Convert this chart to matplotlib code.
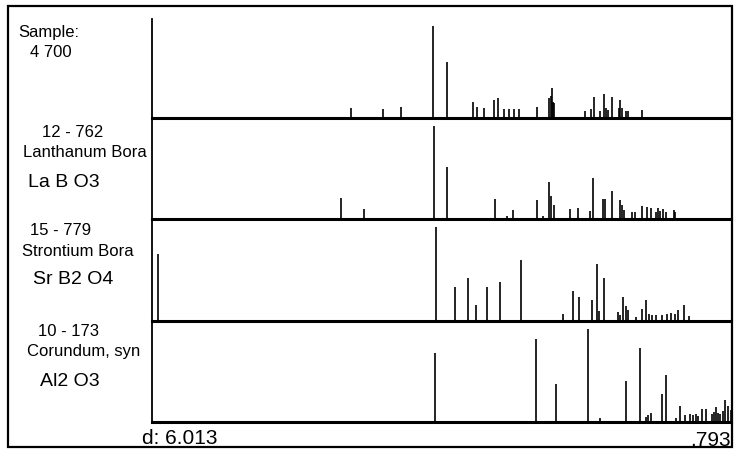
import matplotlib
matplotlib.use('Agg')
import matplotlib.pyplot as plt
from matplotlib.patches import Rectangle

# d-spacing range of the stick patterns (left -> right)
d_left = 6.013
d_right = 0.793

# Sample 4 700
sample_d = [4.221, 3.930, 3.770, 3.479, 3.353, 3.118, 3.080, 3.019, 2.932, 2.896,
            2.839, 2.797, 2.746, 2.706, 2.541, 2.433, 2.418, 2.406, 2.394, 2.385,
            2.106, 2.057, 2.025, 1.973, 1.940, 1.922, 1.898, 1.865, 1.802, 1.790,
            1.772, 1.742, 1.718, 1.597]
sample_i = [10, 9, 11, 93, 57, 16, 11, 10, 18, 20,
            9, 9, 9, 9, 11, 20, 22, 30, 16, 15,
            7, 9, 21, 7, 24, 10, 8, 21, 10, 18,
            10, 7, 7, 8]

# 12-762 Lanthanum Borate
la_d = [4.309, 4.099, 3.473, 3.356, 2.923, 2.815, 2.761, 2.544, 2.485, 2.431,
        2.418, 2.388, 2.244, 2.174, 2.063, 2.034, 1.949, 1.928, 1.868, 1.793,
        1.778, 1.754, 1.687, 1.658, 1.597, 1.552, 1.516, 1.468, 1.448, 1.432,
        1.402, 1.381, 1.306, 1.294]
la_i = [21, 10, 92, 51, 20, 3, 9, 19, 3, 37,
        23, 14, 10, 11, 8, 41, 20, 20, 28, 19,
        14, 9, 7, 7, 13, 12, 11, 7, 11, 8,
        10, 7, 9, 7]

# 15-779 Strontium Borate
sr_d = [5.962, 3.452, 3.281, 3.164, 3.094, 2.990, 2.875, 2.683, 2.310, 2.220,
        2.163, 2.043, 1.998, 1.980, 1.937, 1.808, 1.793, 1.763, 1.742, 1.718,
        1.649, 1.597, 1.559, 1.529, 1.502, 1.468, 1.412, 1.366, 1.336, 1.297,
        1.267, 1.216, 1.168]
sr_i = [66, 92, 33, 42, 16, 33, 38, 60, 7, 29,
        24, 21, 56, 10, 42, 9, 6, 24, 15, 11,
        4, 12, 21, 7, 6, 6, 6, 7, 8, 7,
        11, 16, 5]

# 10-173 Corundum
al_d = [3.461, 2.550, 2.373, 2.084, 1.973, 1.739, 1.613, 1.559, 1.538, 1.516,
        1.417, 1.381, 1.288, 1.252, 1.207, 1.162, 1.135, 1.108, 1.090, 1.056,
        1.018, 0.966, 0.945, 0.927, 0.909, 0.891, 0.869, 0.846, 0.816, 0.797]
al_i = [68, 82, 38, 92, 4, 41, 73, 5, 7, 9,
        28, 47, 4, 16, 7, 8, 7, 8, 6, 13,
        13, 8, 10, 15, 9, 8, 11, 22, 16, 12]

panels = [(sample_d, sample_i), (la_d, la_i), (sr_d, sr_i), (al_d, al_i)]
panel_top = [20, 119, 220, 322]
panel_bot = [119, 220, 322, 423]

W, H = 734, 452
fig = plt.figure(figsize=(W / 100, H / 100), dpi=100)
plt.rcParams['font.family'] = ['Liberation Sans', 'DejaVu Sans']

def fx(x):
    return x / W

def fy(y):
    return 1 - y / H

for (d, inten), top, bot in zip(panels, panel_top, panel_bot):
    ax = fig.add_axes([fx(152), fy(bot), fx(731) - fx(152), (bot - top) / H])
    ax.vlines(d, 0, inten, color='black', lw=1.2)
    ax.set_xlim(d_left, d_right)
    ax.set_ylim(0, 100)
    ax.set_xticks([])
    ax.set_yticks([])
    ax.spines['top'].set_visible(False)
    ax.spines['right'].set_visible(False)
    ax.spines['bottom'].set_linewidth(2.2)
    ax.spines['left'].set_linewidth(1.3)
    ax.patch.set_alpha(0)

# outer frame
fig.patches.append(Rectangle((fx(8), fy(448)), fx(732) - fx(8), fy(7) - fy(448),
                             transform=fig.transFigure, fill=False, lw=1.6, color='black'))

small = 12
big = 14
fig.text(fx(18), fy(37), 'Sample:', fontsize=small, va='baseline')
fig.text(fx(30), fy(57), '4 700', fontsize=small, va='baseline')
fig.text(fx(42), fy(137), '12 - 762', fontsize=small, va='baseline')
fig.text(fx(23), fy(157), 'Lanthanum Bora', fontsize=small, va='baseline')
fig.text(fx(28), fy(187), 'La B O3', fontsize=big, va='baseline')
fig.text(fx(30), fy(235), '15 - 779', fontsize=small, va='baseline')
fig.text(fx(22), fy(256), 'Strontium Bora', fontsize=small, va='baseline')
fig.text(fx(33), fy(284), 'Sr B2 O4', fontsize=big, va='baseline')
fig.text(fx(38), fy(336), '10 - 173', fontsize=small, va='baseline')
fig.text(fx(27), fy(356), 'Corundum, syn', fontsize=small, va='baseline')
fig.text(fx(40), fy(386), 'Al2 O3', fontsize=big, va='baseline')
fig.text(fx(142), fy(444), 'd: 6.013', fontsize=15, va='baseline')
fig.text(fx(731), fy(446), '.793', fontsize=15, va='baseline', ha='right')

fig.savefig('out.png', dpi=100, facecolor='white')
